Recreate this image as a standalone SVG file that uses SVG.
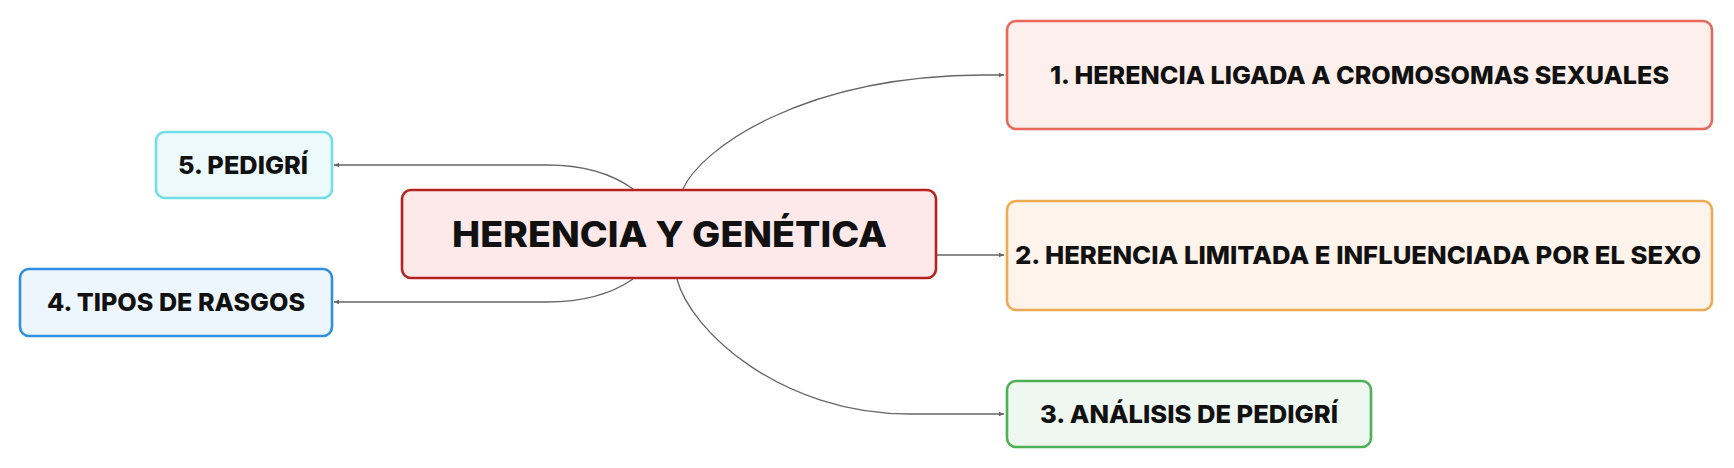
<svg xmlns="http://www.w3.org/2000/svg" width="1734" height="468" viewBox="0 0 1734 468">
<style>
.node{stroke-width:2.6}
.lbl{font-family:"Inter","Open Sans","Liberation Sans",sans-serif;font-weight:800;fill:#111;text-anchor:middle}
.conn{fill:none;stroke:#666;stroke-width:1.3;marker-end:url(#arr)}
</style>
<defs>
<marker id="arr" markerUnits="userSpaceOnUse" markerWidth="6" markerHeight="6" refX="5" refY="3" orient="auto">
<path d="M0,0.8 L5,3 L0,5.2 Z" fill="#666"/>
</marker>
</defs>
<rect width="1734" height="468" fill="#fff"/>
<g id="connectors">
<path class="conn" d="M683,189 C700,150 800,76 983,75 L1004,75"/>
<path class="conn" d="M937,255 L1004,255"/>
<path class="conn" d="M677,279 C690,330 780,414 910,414 L1004,414"/>
<path class="conn" d="M633,189 Q600,165 547,165 L334,165"/>
<path class="conn" d="M633,279 Q600,302 547,302 L334,302"/>
</g>
<g id="center">
<rect class="node" x="402" y="190" width="534" height="88" rx="9" fill="#fde9e9" stroke="#b5231f" stroke-width="3"/>
<text class="lbl" x="669.5" y="247" font-size="35" textLength="435" lengthAdjust="spacingAndGlyphs">HERENCIA Y GENÉTICA</text>
</g>
<g id="node1">
<rect class="node" x="1007" y="21" width="705" height="108" rx="9" fill="#fdefeb" stroke="#e8695b"/>
<text class="lbl" x="1359.5" y="84" font-size="24.5" textLength="619" lengthAdjust="spacingAndGlyphs">1. HERENCIA LIGADA A CROMOSOMAS SEXUALES</text>
</g>
<g id="node2">
<rect class="node" x="1007" y="201" width="705" height="109" rx="9" fill="#fef4eb" stroke="#f1a951"/>
<text class="lbl" x="1358" y="264" font-size="24.5" textLength="686" lengthAdjust="spacingAndGlyphs">2. HERENCIA LIMITADA E INFLUENCIADA POR EL SEXO</text>
</g>
<g id="node3">
<rect class="node" x="1007" y="381" width="364" height="66" rx="9" fill="#eff8f0" stroke="#4db156"/>
<text class="lbl" x="1189" y="423" font-size="24.5" textLength="298" lengthAdjust="spacingAndGlyphs">3. ANÁLISIS DE PEDIGRÍ</text>
</g>
<g id="node4">
<rect class="node" x="20" y="269" width="312" height="67" rx="9" fill="#eef6fd" stroke="#2f8fe3"/>
<text class="lbl" x="176" y="311" font-size="24.5" textLength="258" lengthAdjust="spacingAndGlyphs">4. TIPOS DE RASGOS</text>
</g>
<g id="node5">
<rect class="node" x="156" y="132" width="176" height="66" rx="9" fill="#edfafb" stroke="#70e0e6"/>
<text class="lbl" x="243" y="174" font-size="24.5" textLength="130" lengthAdjust="spacingAndGlyphs">5. PEDIGRÍ</text>
</g>
</svg>
